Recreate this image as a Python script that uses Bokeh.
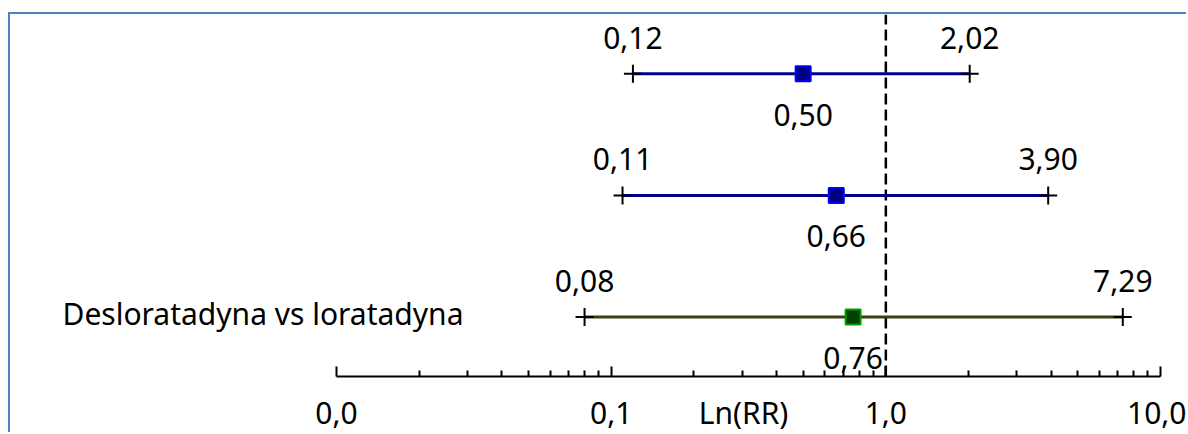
from bokeh.plotting import figure
from bokeh.models import (Range1d, FixedTicker, CustomJSTickFormatter, Label,
                          ColumnDataSource, LogAxis)
from bokeh.core.properties import value
from bokeh.embed import file_html
from bokeh.resources import INLINE

# ---- data ----
STUDIES = ["", "", "Desloratadyna vs loratadyna"]
ROW = [3, 2, 1]
RR = [0.50, 0.66, 0.76]
CI_LOW = [0.12, 0.11, 0.08]
CI_HIGH = [2.02, 3.90, 7.29]
TICKS = [0.01, 0.1, 1.0, 10.0]
MINOR_TICKS = [m * d for d in (0.01, 0.1, 1.0) for m in range(2, 10)]
AXIS_LABEL = "Ln(RR)"
NULL_RR = 1.0

# ---- styles / layout ----
LINE_COLORS = ["#000090", "#000090", "#3d3d12"]
FILL_COLORS = ["#000080", "#000080", "#004000"]
EDGE_COLORS = ["#0000ff", "#0000ff", "#00a000"]
FONT = "Noto Sans"
FS = "30px"
BORDER = "#4F81BD"
Y_BOTTOM, Y_TOP = 0.0337, 3.4877   # view range of the row axis
Y_AXIS = 0.5107                    # where the RR axis sits


def fmt(v):
    return f"{v:.2f}".replace(".", ",")


src = ColumnDataSource(dict(
    row=ROW, rr=RR, lo=CI_LOW, hi=CI_HIGH,
    lc=LINE_COLORS, fc=FILL_COLORS, ec=EDGE_COLORS,
    lo_txt=[fmt(v) for v in CI_LOW],
    hi_txt=[fmt(v) for v in CI_HIGH],
    rr_txt=[fmt(v) for v in RR],
))

p = figure(width=1178, height=420, x_axis_type="log",
           x_axis_location=None, y_axis_location=None,
           x_range=Range1d(10 ** -3.18689, 10 ** 1.10194),
           y_range=Range1d(Y_BOTTOM, Y_TOP),
           output_backend="svg", toolbar_location=None,
           min_border_left=0, min_border_right=0, min_border_top=0,
           min_border_bottom=0)
p.margin = (12, 0, 0, 8)
p.styles = {"border-left": f"2px solid {BORDER}", "border-top": f"2px solid {BORDER}"}
p.outline_line_color = None
p.background_fill_color = "white"
p.border_fill_color = "white"
p.xgrid.visible = False
p.ygrid.visible = False

xaxis = LogAxis(
    fixed_location=Y_AXIS,
    ticker=FixedTicker(ticks=TICKS, minor_ticks=MINOR_TICKS),
    formatter=CustomJSTickFormatter(code="return tick.toFixed(1).replace('.', ',')"),
    bounds=(TICKS[0], TICKS[-1]),
)
xaxis.axis_line_color = "black"
xaxis.axis_line_width = 2
xaxis.major_tick_in = 10
xaxis.major_tick_out = 0
xaxis.minor_tick_in = 6
xaxis.minor_tick_out = 0
xaxis.major_tick_line_width = 2
xaxis.minor_tick_line_width = 2
xaxis.major_tick_line_color = "black"
xaxis.minor_tick_line_color = "black"
xaxis.major_label_text_font = FONT
xaxis.major_label_text_font_size = FS
xaxis.major_label_text_color = "black"
xaxis.major_label_standoff = 26
p.add_layout(xaxis, "below")

# axis title, on the same line as the tick labels, between 0,1 and 1,0
p.add_layout(Label(x=733, x_units="screen", y=Y_AXIS, y_units="data", y_offset=-36,
                   text=AXIS_LABEL, text_align="center", text_baseline="alphabetic",
                   text_font=FONT, text_font_size=FS, text_color="black"))

# null-effect line (RR = 1), from the axis up to the top
p.segment(x0=[NULL_RR], y0=[Y_AXIS], x1=[NULL_RR], y1=[Y_TOP],
          line_color="black", line_width=2.5, line_dash="11 5")

p.segment("lo", "row", "hi", "row", source=src, line_color="lc", line_width=3)
p.scatter("lo", "row", source=src, marker="cross", size=18,
          line_color="black", line_width=2)
p.scatter("hi", "row", source=src, marker="cross", size=18,
          line_color="black", line_width=2)
p.scatter("rr", "row", source=src, marker="square", size=15,
          fill_color="fc", line_color="ec", line_width=2)

common = dict(source=src, text_align="center", text_baseline="alphabetic",
              text_font=value(FONT), text_font_size=value(FS), text_color="black")
p.text("lo", "row", text="lo_txt", y_offset=-36, **common)
p.text("hi", "row", text="hi_txt", y_offset=-36, **common)
p.text("rr", "row", text="rr_txt", y_offset=41, **common)

for name, r in zip(STUDIES, ROW):
    if name:
        p.add_layout(Label(x=52, x_units="screen", y=r, text=name,
                           text_baseline="alphabetic", y_offset=3,
                           text_font=FONT, text_font_size=FS, text_color="black"))

open("out.html", "w").write(file_html(p, INLINE))
